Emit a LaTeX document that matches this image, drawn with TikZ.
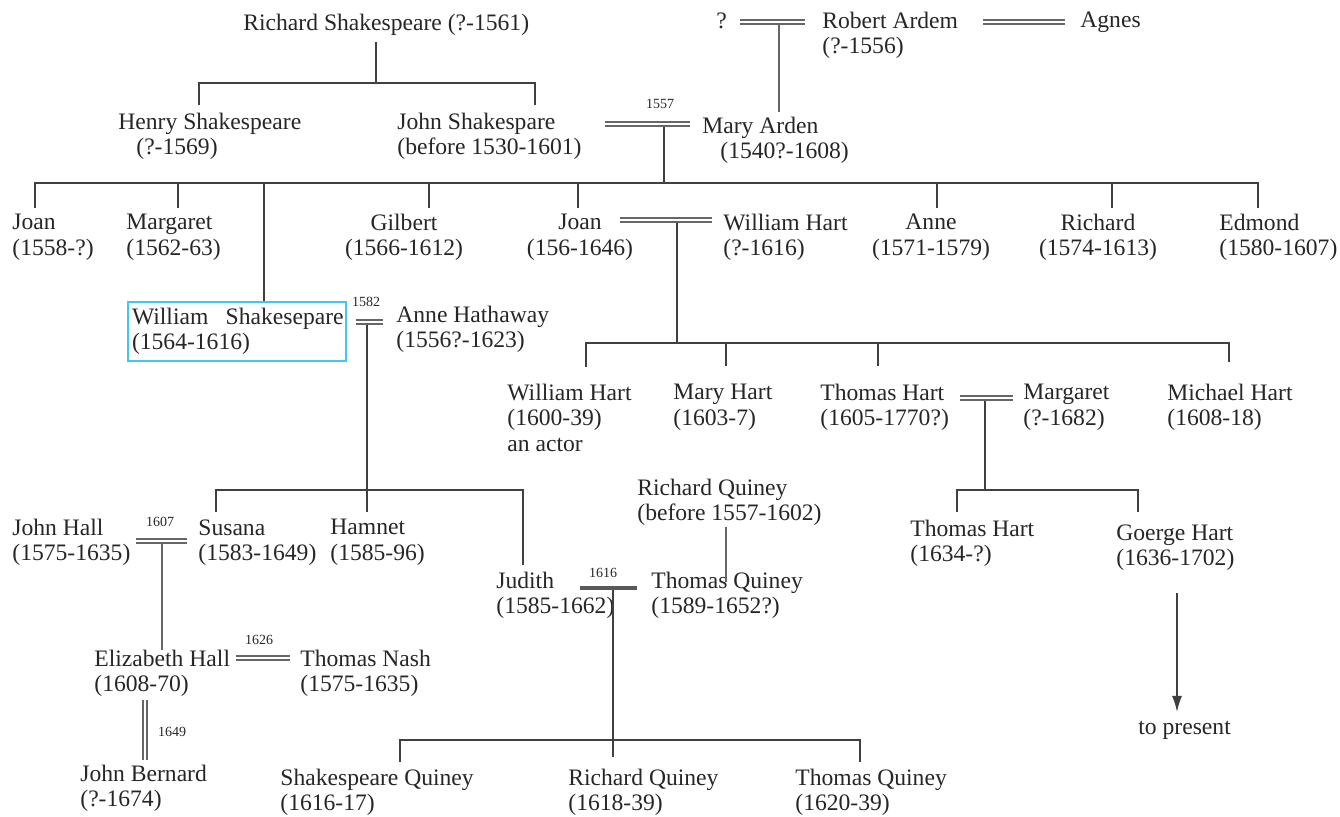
\documentclass[tikz,border=0pt]{standalone}
\usepackage{fontspec}
\setmainfont{Liberation Serif}
\usepackage{xcolor}
\usetikzlibrary{arrows.meta}
\definecolor{boxcyan}{RGB}{64,200,240}

\begin{document}
\begin{tikzpicture}[x=0.5pt,y=-0.5pt,
    person/.style={anchor=north west,align=left,inner sep=0pt,
      font=\fontsize{11.8}{12.6}\selectfont,text=black!85},
    cperson/.style={person,anchor=north,align=center},
    yr/.style={inner sep=0pt,font=\fontsize{7}{8}\selectfont,text=black!85},
    tree/.style={draw=black!75,line width=0.8pt},
    wed/.style={draw=black!60,line width=0.75pt,double=white,double distance=1.25pt},
    ]
    \useasboundingbox (0,0) rectangle (1340,817);
    % first generations
    \node[person] (rich) at (243,14) {Richard Shakespeare (?-1561)};
    \node[person] (unk) at (716,12) {?};
    \node[person] (robert) at (822,12) {Robert Ardem\\(?-1556)};
    \node[person] (agnes) at (1080,12) {Agnes};
    \node[person] (henry) at (118,113) {Henry Shakespeare\\\hspace*{9pt}(?-1569)};
    \node[person] (john) at (397,113) {John Shakespare\\(before 1530-1601)};
    \node[person] (mary) at (702,117) {Mary Arden\\\hspace*{9pt}(1540?-1608)};
    \node[yr] (y1557) at (660,104) {1557};
    % children of John and Mary
    \node[person] (joana) at (12,214) {Joan\\(1558-?)};
    \node[person] (marga) at (126,214) {Margaret\\(1562-63)};
    \node[cperson] (gilbert) at (404,214) {Gilbert\\(1566-1612)};
    \node[cperson] (joanb) at (580,214) {Joan\\(156-1646)};
    \node[person] (whart) at (723,214) {William Hart\\(?-1616)};
    \node[cperson] (anne) at (931,214) {Anne\\(1571-1579)};
    \node[cperson] (richard) at (1098,214) {Richard\\(1574-1613)};
    \node[person] (edmond) at (1219,214) {Edmond\\(1580-1607)};
    \node[person,draw=boxcyan,line width=1pt,inner xsep=2pt,inner ysep=3pt,text width=105pt] (will) at (127,301)
      {\mbox{William\hspace{0.4em} Shakesepare}\\(1564-1616)};
    \node[yr] (y1582) at (366,302) {1582};
    \node[person] (anneh) at (396,306) {Anne Hathaway\\(1556?-1623)};
    % the Harts
    \node[person] (whartb) at (507,384) {William Hart\\(1600-39)\\an actor};
    \node[person] (maryh) at (673,384) {Mary Hart\\(1603-7)};
    \node[person] (thomh) at (820,384) {Thomas Hart\\(1605-1770?)};
    \node[person] (margb) at (1023,384) {Margaret\\(?-1682)};
    \node[person] (michael) at (1167,384) {Michael Hart\\(1608-18)};
    \node[person] (thomhb) at (910,520) {Thomas Hart\\(1634-?)};
    \node[person] (goerge) at (1116,524) {Goerge Hart\\(1636-1702)};
    \node[person] (present) at (1138,721) {to present};
    % children of William and Anne
    \node[person] (rquiney) at (637,479) {Richard Quiney\\(before 1557-1602)};
    \node[person] (jhall) at (12,519) {John Hall\\(1575-1635)};
    \node[yr] (y1607) at (160,522) {1607};
    \node[person] (susana) at (198,519) {Susana\\(1583-1649)};
    \node[person] (hamnet) at (330,519) {Hamnet\\(1585-96)};
    \node[person] (judith) at (496,572) {Judith\\(1585-1662)};
    \node[yr] (y1616) at (603,573) {1616};
    \node[person] (tquiney) at (651,572) {Thomas Quiney\\(1589-1652?)};
    \node[person] (eliz) at (94,650) {Elizabeth Hall\\(1608-70)};
    \node[yr] (y1626) at (259,640) {1626};
    \node[person] (nash) at (300,650) {Thomas Nash\\(1575-1635)};
    \node[yr] (y1649) at (172,732) {1649};
    \node[person] (bernard) at (80,765) {John Bernard\\(?-1674)};
    \node[person] (squiney) at (280,769) {Shakespeare Quiney\\(1616-17)};
    \node[person] (rquineyb) at (568,769) {Richard Quiney\\(1618-39)};
    \node[person] (tquineyb) at (795,769) {Thomas Quiney\\(1620-39)};

    % marriages
    \draw[wed] (740,22) -- (805,22);
    \draw[wed] (983,22) -- (1065,22);
    \draw[wed] (605,124) -- (690,124);
    \draw[wed] (620,220) -- (712,220);
    \draw[wed] (356,322) -- (383,322);
    \draw[wed] (960,398) -- (1013,398);
    \draw[wed] (136,541) -- (187,541);
    \draw[wed] (236,658) -- (290,658);
    \draw[wed] (145,700) -- (145,760);
    \draw[black!65,line width=2pt] (580,588) -- (637,588);

    % descent
    \coordinate (rbar) at (376,83);
    \draw[tree] (376,42) -- (rbar);
    \draw[tree] (199,105) -- (199,83) -- (535,83) -- (535,105);
    \draw[tree,black!60,line width=0.6pt] (779,25) -- (779,112);
    \coordinate (jbar) at (664,183);
    \draw[tree] (664,127) -- (jbar);
    \draw[tree] (35,208) -- (35,183) -- (1258,183) -- (1258,208);
    \foreach \x in {178,429,578,937,1112}
      \draw[tree] (\x,183) -- (\x,208);
    \draw[tree] (264,183) -- (will.north -| 264,0);
    \draw[tree] (677,223) -- (677,343);
    \draw[tree] (586,367) -- (586,343) -- (1229,343) -- (1229,362);
    \foreach \x in {726,878}
      \draw[tree] (\x,343) -- (\x,366);
    \draw[tree] (985,401) -- (985,490);
    \draw[tree] (957,512) -- (957,490) -- (1138,490) -- (1138,512);
    \draw[tree] (367,325) -- (367,512);
    \draw[tree] (216,512) -- (216,490) -- (523,490) -- (523,565);
    \draw[tree,black!60,line width=0.6pt] (162,544) -- (162,650);
    \draw[tree,black!60,line width=0.6pt] (726,527) -- (726,582);
    \draw[tree] (613,590) -- (613,757);
    \draw[tree] (400,762) -- (400,740) -- (860,740) -- (860,762);
    \draw[tree,->,>={Latex[length=8pt,width=5pt]}] (1177,593) -- (1177,712);
\end{tikzpicture}
\end{document}
